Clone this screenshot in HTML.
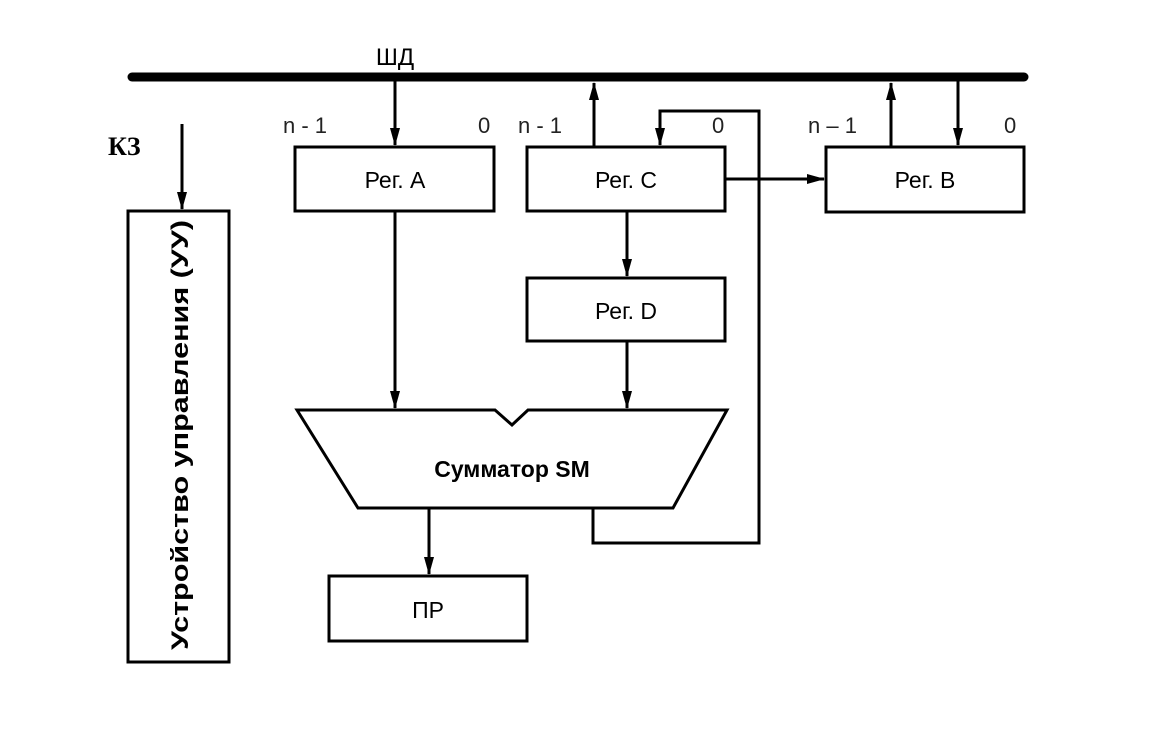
<!DOCTYPE html>
<html><head><meta charset="utf-8"><style>
html,body{margin:0;padding:0;background:#fff;}
svg{display:block;}
text{font-family:"Liberation Sans",sans-serif;fill:#000;}
.l{font-size:23px;}
.n{font-size:22px;fill:#222;}
</style></head><body>
<svg width="1154" height="740" viewBox="0 0 1154 740" xmlns="http://www.w3.org/2000/svg">
<defs>
<marker id="a" markerWidth="20" markerHeight="12" refX="17" refY="5" orient="auto" markerUnits="userSpaceOnUse">
<path d="M0,0 L18,5 L0,10 Z" fill="#000"/>
</marker>
</defs>
<line x1="132" y1="77" x2="1024" y2="77" stroke="#000" stroke-width="9" stroke-linecap="round"/>
<text x="395" y="65" style="font-size:24px" text-anchor="middle">ШД</text>
<text x="108" y="155" style="font-family:'Liberation Serif',serif;font-size:26px;font-weight:bold">КЗ</text>
<g stroke="#000" stroke-width="3" fill="none">
<rect x="128" y="211" width="101" height="451"/>
<rect x="295" y="147" width="199" height="64"/>
<rect x="527" y="147" width="198" height="64"/>
<rect x="826" y="147" width="198" height="65"/>
<rect x="527" y="278" width="198" height="63"/>
<rect x="329" y="576" width="198" height="65"/>
<path d="M297,410 L495,410 L512,425 L528,410 L727,410 L673,508 L358,508 Z"/>
<line x1="182" y1="124" x2="182" y2="209" marker-end="url(#a)"/>
<line x1="395" y1="81" x2="395" y2="145" marker-end="url(#a)"/>
<line x1="395" y1="211" x2="395" y2="408" marker-end="url(#a)"/>
<line x1="594" y1="147" x2="594" y2="83" marker-end="url(#a)"/>
<line x1="627" y1="211" x2="627" y2="276" marker-end="url(#a)"/>
<line x1="627" y1="341" x2="627" y2="408" marker-end="url(#a)"/>
<line x1="725" y1="179" x2="824" y2="179" marker-end="url(#a)"/>
<line x1="891" y1="147" x2="891" y2="83" marker-end="url(#a)"/>
<line x1="958" y1="81" x2="958" y2="145" marker-end="url(#a)"/>
<line x1="429" y1="508" x2="429" y2="574" marker-end="url(#a)"/>
<polyline points="593,508 593,543 759,543 759,111 660,111 660,145" marker-end="url(#a)"/>
</g>
<text class="n" x="283" y="133">n - 1</text>
<text class="n" x="478" y="133">0</text>
<text class="n" x="518" y="133">n - 1</text>
<text class="n" x="712" y="133">0</text>
<text class="n" x="808" y="133">n – 1</text>
<text class="n" x="1004" y="133">0</text>
<text class="l" x="395" y="188" text-anchor="middle">Рег. А</text>
<text class="l" x="626" y="188" text-anchor="middle">Рег. С</text>
<text class="l" x="925" y="188" text-anchor="middle">Рег. В</text>
<text class="l" x="626" y="319" text-anchor="middle">Рег. D</text>
<text class="l" x="428" y="618" text-anchor="middle">ПР</text>
<text x="512" y="477" style="font-size:23px;font-weight:bold" text-anchor="middle">Сумматор SM</text>
<text transform="translate(188,435) rotate(-90)" style="font-size:24px;font-weight:bold" text-anchor="middle" textLength="430" lengthAdjust="spacingAndGlyphs">Устройство управления (УУ)</text>
</svg>
</body></html>
